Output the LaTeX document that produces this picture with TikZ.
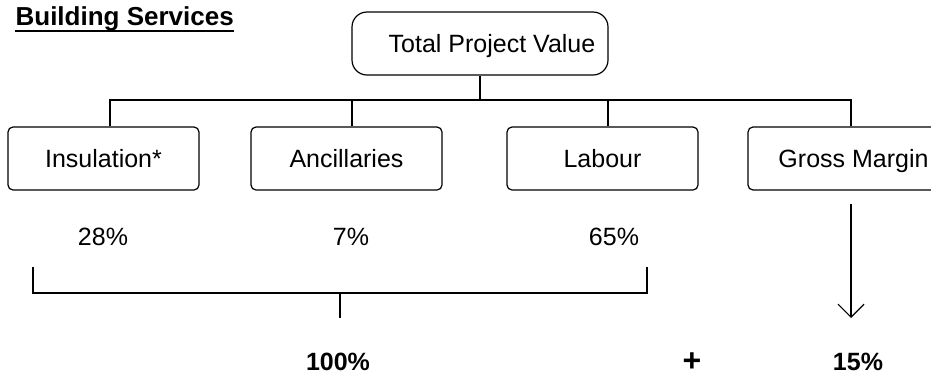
\documentclass[tikz,border=0pt]{standalone}
\usepackage{fontspec}
\setmainfont{Liberation Sans}
\usetikzlibrary{arrows.meta}
\tikzset{%
item/.style={draw,rounded corners=2.5pt,minimum width=95.5pt,minimum height=31.5pt,inner sep=0pt,
             text height=9pt,text depth=0pt},
root/.style={item,rounded corners=7.5pt,minimum width=128pt},
value/.style={inner sep=0pt},
result/.style={value,font=\fontsize{12.5}{15}\selectfont\bfseries},
bar/.style={draw,line width=0.8pt},
flow/.style={draw,-{Straight Barb[length=6.5pt,width=13pt]}}
}

\begin{document}
\begin{tikzpicture}[x=0.5pt,y=-0.5pt,line width=0.6pt,font=\fontsize{12.5}{15}\selectfont]
\useasboundingbox (0,0) rectangle (931,376);
\clip (0,0) rectangle (931,376);

\node[anchor=base west,inner sep=0pt,font=\fontsize{13}{15}\selectfont\bfseries] (title) at (15,25) {Building Services};
\draw[line width=1.4pt] ([yshift=-3pt]title.base west) -- ([yshift=-3pt]title.base east);

\node[root] (projval) at (480,43.5)  {\hspace*{12pt}Total Project Value};
\node[item] (insul)   at (103.5,158.5) {Insulation*};
\node[item] (ancil)   at (346.5,158.5) {Ancillaries};
\node[item] (labour)  at (602.5,158.5) {Labour};
\node[item] (margin)  at (843.5,158.5) {\hspace*{10pt}Gross Margin};

\coordinate (bus) at (480,100);
\draw (projval) -- (bus);
\foreach \b/\dx in {insul/3.25pt,
                    ancil/2.75pt,
                    labour/2.75pt,
                    margin/3.75pt}
{
  \draw ([xshift=\dx]\b.north) |- (bus);
}

\node[value] (p28) at (103,237) {28\%};
\node[value] (p7)  at (351,237) {7\%};
\node[value] (p65) at (614,237) {65\%};

\coordinate (bl)   at (33,267);
\coordinate (br)   at (647,267);
\coordinate (bmid) at (340,293);
\coordinate (btip) at (340,318);
\draw[bar] (bl) -- (bl |- bmid) -- (br |- bmid) -- (br);
\draw (bmid) -- (btip);

\coordinate (mend) at (851,318);
\draw[flow] ([xshift=3.75pt,yshift=-6.5pt]margin.south) -- (mend);

\node[result] (p100) at (338,362) {100\%};
\node[result,font=\fontsize{16}{18}\selectfont\bfseries] (plus) at (692,362) {+};
\node[result] (p15)  at (858,362) {15\%};
\end{tikzpicture}
\end{document}
